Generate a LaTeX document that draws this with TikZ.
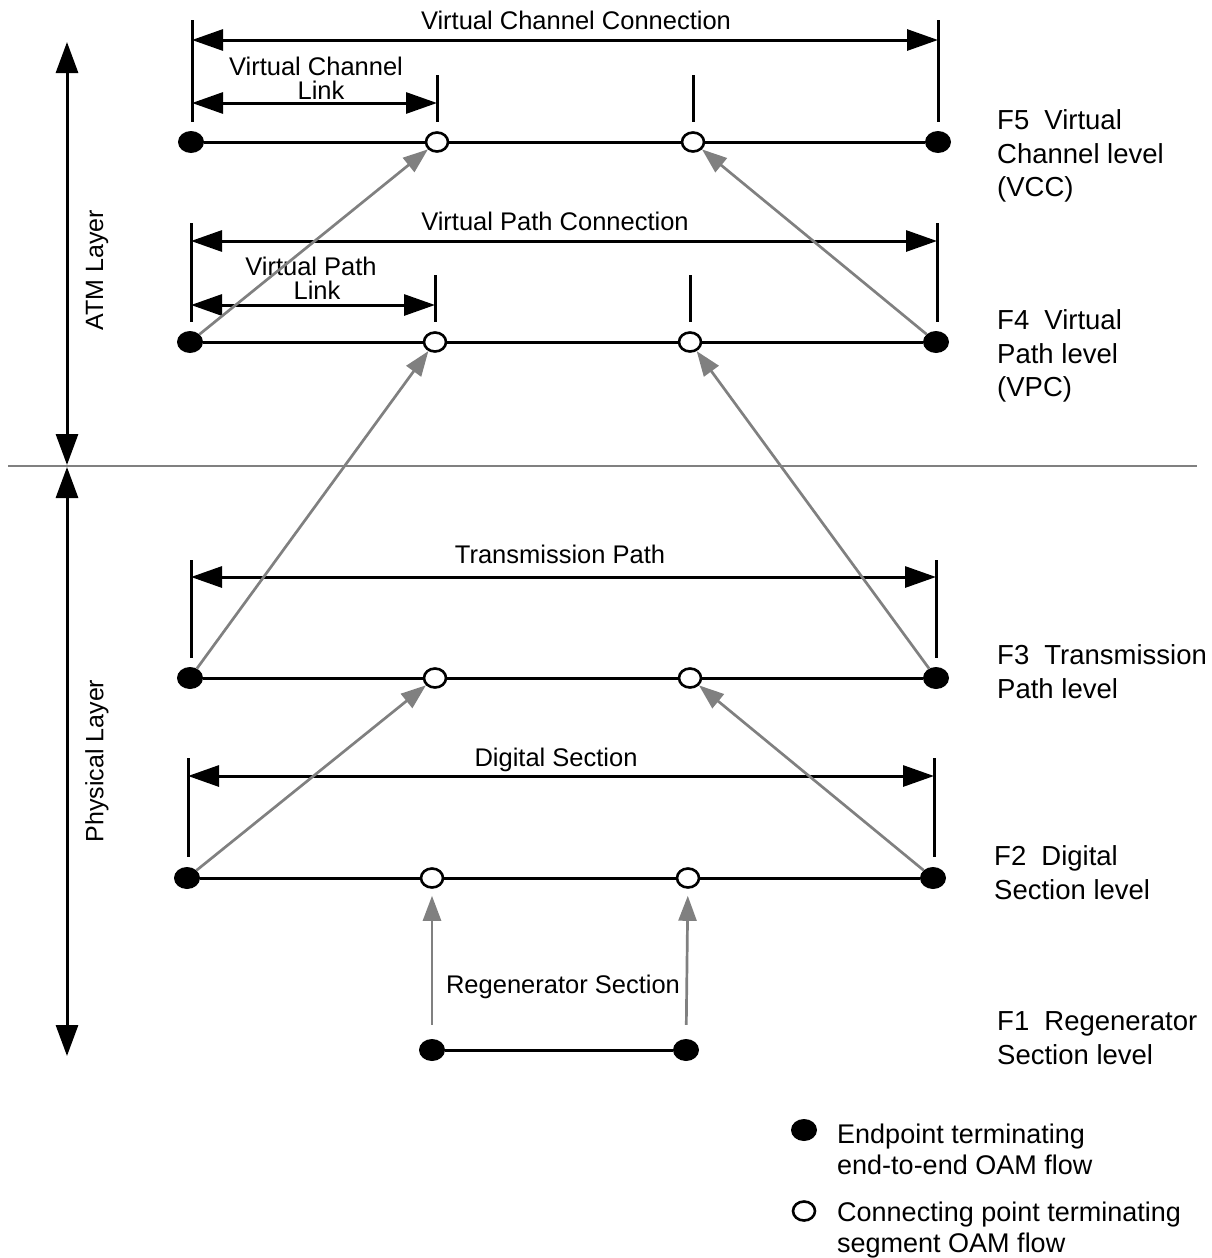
\documentclass[tikz,border=0pt]{standalone}
\usepackage{fontspec}
\setmainfont{Liberation Sans}
\usetikzlibrary{arrows.meta,shapes.geometric}
\definecolor{oamgray}{RGB}{128,128,128}
\begin{document}
\begin{tikzpicture}[x=1pt,y=-1pt,
  endpt/.style={ellipse,fill=black,minimum width=26pt,minimum height=22pt,inner sep=0pt},
  conpt/.style={ellipse,draw=black,fill=white,line width=2.6pt,minimum width=22pt,minimum height=19pt,inner sep=0pt},
  lvl/.style={line width=3pt},
  dim/.style={line width=3pt,{Triangle[length=31pt,width=21pt]}-{Triangle[length=31pt,width=21pt]}},
  tickln/.style={line width=3pt},
  oam/.style={draw=oamgray,line width=2.7pt,-{Triangle[length=25pt,width=18pt]}},
  axisln/.style={line width=3pt,{Triangle[length=31pt,width=22pt]}-{Triangle[length=31pt,width=22pt]}},
  dimlbl/.style={font=\fontsize{25.5}{30}\selectfont,inner sep=0pt,anchor=base},
  lvllbl/.style={font=\fontsize{27.5}{33}\selectfont,inner sep=0pt,anchor=base west},
  leglbl/.style={font=\fontsize{27}{32}\selectfont,inner sep=0pt,anchor=base west},
  laylbl/.style={font=\fontsize{25}{30}\selectfont,inner sep=0pt,rotate=90}
]
\useasboundingbox (0,0) rectangle (1212,1258);

% ---- level points ----
\node[endpt] (f5a) at (191,142) {};
\node[conpt] (f5b) at (437,142) {};
\node[conpt] (f5c) at (693,142) {};
\node[endpt] (f5d) at (938,142) {};

\node[endpt] (f4a) at (190,342) {};
\node[conpt] (f4b) at (435,342) {};
\node[conpt] (f4c) at (690,342) {};
\node[endpt] (f4d) at (936,342) {};

\node[endpt] (f3a) at (190,678) {};
\node[conpt] (f3b) at (435,678) {};
\node[conpt] (f3c) at (690,678) {};
\node[endpt] (f3d) at (936,678) {};

\node[endpt] (f2a) at (187,878) {};
\node[conpt] (f2b) at (432,878) {};
\node[conpt] (f2c) at (688,878) {};
\node[endpt] (f2d) at (933,878) {};

\node[endpt] (f1a) at (432,1050) {};
\node[endpt] (f1b) at (686,1050) {};

\draw[lvl] (f5a) -- (f5b) (f5b) -- (f5c) (f5c) -- (f5d);
\draw[lvl] (f4a) -- (f4b) (f4b) -- (f4c) (f4c) -- (f4d);
\draw[lvl] (f3a) -- (f3b) (f3b) -- (f3c) (f3c) -- (f3d);
\draw[lvl] (f2a) -- (f2b) (f2b) -- (f2c) (f2c) -- (f2d);
\draw[lvl] (f1a) -- (f1b);

% ---- dimension lines F5 ----
\draw[tickln] (192,20) -- (192,122);
\draw[tickln] (938,20) -- (938,122);
\draw[tickln] (f5b |- 0,75) -- (f5b |- 0,122);
\draw[tickln] (f5c |- 0,75) -- (f5c |- 0,122);
\draw[dim] (192,40) -- (938,40);
\draw[dim] (192,103) -- (f5b |- 0,103);
\node[dimlbl] (lvcc) at (576,29) {Virtual Channel Connection};
\node[dimlbl] (lvcl1) at (316,75) {Virtual Channel};
\node[dimlbl] (lvcl2) at (321,99) {Link};

% ---- dimension lines F4 ----
\draw[tickln] (191,223) -- (191,322);
\draw[tickln] (937,223) -- (937,322);
\draw[tickln] (f4b |- 0,275) -- (f4b |- 0,322);
\draw[tickln] (f4c |- 0,275) -- (f4c |- 0,322);
\draw[dim] (191,241) -- (937,241);
\draw[dim] (191,305) -- (f4b |- 0,305);
\node[dimlbl] (lvpc) at (555,230) {Virtual Path Connection};
\node[dimlbl] (lvpl1) at (311,275) {Virtual Path};
\node[dimlbl] (lvpl2) at (317,299) {Link};

% ---- dimension lines F3 ----
\draw[tickln] (191,560) -- (191,658);
\draw[tickln] (936,560) -- (936,658);
\draw[dim] (191,577) -- (936,577);
\node[dimlbl] (ltp) at (560,563) {Transmission Path};

% ---- dimension lines F2 ----
\draw[tickln] (188,758) -- (188,857);
\draw[tickln] (934,758) -- (934,857);
\draw[dim] (188,776) -- (934,776);
\node[dimlbl] (lds) at (556,766) {Digital Section};

\node[dimlbl] (lrs) at (563,993) {Regenerator Section};

% ---- OAM flow arrows ----
\draw[oam] (f4a) -- (f5b);
\draw[oam] (f4d) -- (f5c);
\draw[oam] (f3a) -- (f4b);
\draw[oam] (f3d) -- (f4c);
\draw[oam] (f2a) -- (f3b);
\draw[oam] (f2d) -- (f3c);
\draw[oam,shorten <=14pt,shorten >=7pt] (f1a) -- (f2b);
\draw[oam,shorten <=14pt,shorten >=7pt] (f1b) -- (f2c);

% ---- layer axis ----
\coordinate (sepL) at (8,466);
\coordinate (sepR) at (1197,466);
\draw[draw=oamgray,line width=2.5pt] (sepL) -- (sepR);
\coordinate (axtop) at (67,42);
\coordinate (axmidA) at (67,465);
\coordinate (axmidB) at (67,467);
\coordinate (axbot) at (67,1056);
\draw[axisln] (axtop) -- (axmidA);
\draw[axisln] (axmidB) -- (axbot);
\node[laylbl] (latm) at (97,270) {ATM Layer};
\node[laylbl] (lphy) at (97,761) {Physical Layer};

% ---- level labels ----
\node[lvllbl] (l5a) at (997,129) {F5\hspace{0.55em}Virtual};
\node[lvllbl] (l5b) at (997,163) {Channel level};
\node[lvllbl] (l5c) at (997,196) {(VCC)};
\node[lvllbl] (l4a) at (997,329) {F4\hspace{0.55em}Virtual};
\node[lvllbl] (l4b) at (997,363) {Path level};
\node[lvllbl] (l4c) at (997,396) {(VPC)};
\node[lvllbl] (l3a) at (997,664) {F3\hspace{0.55em}Transmission};
\node[lvllbl] (l3b) at (997,698) {Path level};
\node[lvllbl] (l2a) at (994,865) {F2\hspace{0.55em}Digital};
\node[lvllbl] (l2b) at (994,899) {Section level};
\node[lvllbl] (l1a) at (997,1030) {F1\hspace{0.55em}Regenerator};
\node[lvllbl] (l1b) at (997,1064) {Section level};

% ---- legend ----
\node[endpt] (legE) at (804,1130) {};
\node[conpt] (legC) at (804,1211) {};
\node[leglbl] (leg1) at (837,1143) {Endpoint terminating};
\node[leglbl] (leg2) at (837,1174) {end-to-end OAM flow};
\node[leglbl] (leg3) at (837,1221) {Connecting point terminating};
\node[leglbl] (leg4) at (837,1252) {segment OAM flow};
\end{tikzpicture}
\end{document}
